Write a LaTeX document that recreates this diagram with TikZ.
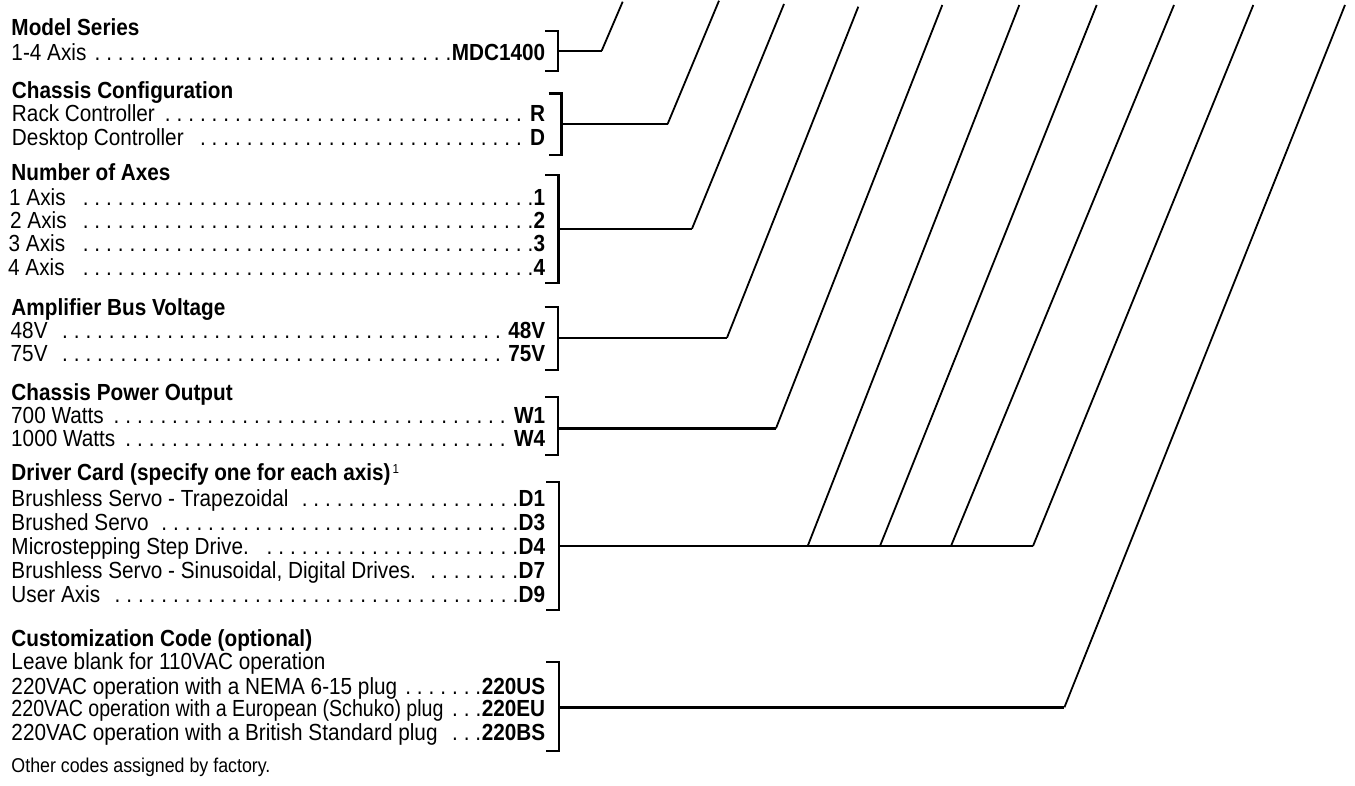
\documentclass[tikz,border=0pt]{standalone}
\usepackage{fontspec}
\usepackage{graphicx}
\setmainfont{Liberation Sans}[FakeStretch=0.89]
\newcommand\mybracket[5]{%
  \draw[brk] (#2-13,#3) -- (#2,#3) -- (#2,#4) -- (#2-13,#4);
  \coordinate (#1) at (#2,#5);}
% row: [extra gap]{total width}{label}{code}; dot grid aligned to the code
\newcommand\myrow[4][0pt]{%
  \setbox0\hbox{#3}\setbox2\hbox{\textbf{#4}}%
  \dimen0=\dimexpr #2pt-\wd0-\wd2-#1-2pt\relax
  \count255=\numexpr(\dimen0-383386)/766771\relax
  \dimen2=11.7pt \multiply\dimen2 by \count255
  \hbox to #2pt{\box0\hfil\hbox to \dimen2{\leaders\hbox to 11.7pt{\hfil.\kern0.5pt}\hfill}\kern#1\box2}}
\tikzset{
  txt/.style={anchor=base west, inner sep=0pt, font=\fontsize{23.3pt}{24pt}\selectfont},
  head/.style={txt, font=\fontsize{23.3pt}{24pt}\selectfont\bfseries},
  brk/.style={line width=2.4pt, line join=miter},
  hline/.style={line width=2.4pt},
  dline/.style={line width=1.8pt},
}
\begin{document}
\begin{tikzpicture}[x=1pt,y=-1pt]
\useasboundingbox (0,0) rectangle (1355,785);
% ---------- texts ----------
\node[head] (h1) at (11.3,35.2) {Model Series};
\node[txt] (r11) at (11.3,60) {\myrow{533.7}{1-4 Axis}{MDC1400}};

\node[head] (h2) at (11.8,98) {Chassis Configuration};
\node[txt] (r21) at (11.8,121.5) {\myrow[8pt]{533.2}{Rack Controller}{R}};
\node[txt] (r22) at (11.8,145) {\myrow[8pt]{533.2}{Desktop Controller}{D}};

\node[head] (h3) at (11.3,180) {Number of Axes};
\node[txt] (r31) at (9,205) {\myrow{536}{1 Axis}{1}};
\node[txt] (r32) at (10,228.3) {\myrow{535}{2 Axis}{2}};
\node[txt] (r33) at (8.5,251.6) {\myrow{536.5}{3 Axis}{3}};
\node[txt] (r34) at (8,275) {\myrow{537}{4 Axis}{4}};

\node[head] (h4) at (11.3,315) {Amplifier Bus Voltage};
\node[txt] (r41) at (10.5,338.4) {\myrow[7pt]{534.5}{48V}{48V}};
\node[txt] (r42) at (10.5,361.7) {\myrow[7pt]{534.5}{75V}{75V}};

\node[head] (h5) at (11.3,400.2) {Chassis Power Output};
\node[txt] (r51) at (11,423.4) {\myrow[8pt]{534}{700 Watts}{W1}};
\node[txt] (r52) at (11,446.2) {\myrow[8pt]{534}{1000 Watts}{W4}};

\node[head] (h6) at (11.3,480.5) {Driver Card (specify one for each axis)\hspace{2pt}{\mdseries\fontsize{13pt}{13pt}\selectfont\raisebox{7.5pt}{1}}};
\node[txt] (r61) at (11.3,506.5) {\myrow{533.7}{Brushless Servo - Trapezoidal}{D1}};
\node[txt] (r62) at (11.3,530.5) {\myrow{533.7}{Brushed Servo}{D3}};
\node[txt] (r63) at (11.3,554.5) {\myrow{533.7}{Microstepping Step Drive.}{D4}};
\node[txt] (r64) at (11.3,578.3) {\myrow{533.7}{Brushless Servo - Sinusoidal, Digital Drives.}{D7}};
\node[txt] (r65) at (11.3,602) {\myrow{533.7}{User Axis}{D9}};

\node[head] (h7) at (11.3,646.6) {Customization Code (optional)};
\node[txt] (r71) at (11.3,669) {Leave blank for 110VAC operation};
\node[txt] (r72) at (11.3,694) {\myrow{533.7}{220VAC operation with a NEMA 6-15 plug}{220US}};
\node[txt] (r73) at (11.3,716.5) {\myrow{533.7}{\scalebox{0.945}[1]{220VAC operation with a European (Schuko) plug}}{220EU}};
\node[txt] (r74) at (11.3,740) {\myrow{533.7}{220VAC operation with a British Standard plug}{220BS}};
\node[txt, font=\fontsize{20pt}{20pt}\selectfont] (note) at (11.3,772) {Other codes assigned by factory.};

% ---------- brackets ----------
\mybracket{b1}{558}{30.7}{70.7}{50.7}
\mybracket{b2}{561.5}{93.3}{155}{124}
\mybracket{b3}{558.3}{175}{282.7}{228.7}
\mybracket{b4}{557.7}{306.7}{370}{337.7}
\mybracket{b5}{558}{396.7}{455}{428.3}
\mybracket{b6}{559}{481.7}{610}{546}
\mybracket{b7}{559}{661.7}{751}{707.3}

% ---------- coordinates ----------
\coordinate (e1) at (601.7,50.7);
\coordinate (e2) at (667.6,124);
\coordinate (e3) at (692,228.7);
\coordinate (e4) at (727,337.7);
\coordinate (e5) at (776,428.3);
\coordinate (d1) at (807.7,546);
\coordinate (d2) at (880,546);
\coordinate (d3) at (951,546);
\coordinate (d4) at (1033,546);
\coordinate (e7) at (1064.4,707.3);

\coordinate (t1) at (622.7,1.7);
\coordinate (t2) at (719,0.7);
\coordinate (t3) at (784,4);
\coordinate (t4) at (858.3,6.7);
\coordinate (t5) at (942.3,5);
\coordinate (t6) at (1019.3,5);
\coordinate (t7) at (1096.7,5);
\coordinate (t8) at (1174,5);
\coordinate (t9) at (1253.3,5);
\coordinate (t10) at (1345,5);

% ---------- connectors ----------
\draw[hline] (b1) -- (e1);
\draw[hline] (b2) -- (e2);
\draw[hline] (b3) -- (e3);
\draw[hline] (b4) -- (e4);
\draw[hline] (b5) -- (e5);
\draw[hline] (b6) -- (d4);
\draw[hline] (b7) -- (e7);
\draw[dline] (e1) -- (t1);
\draw[dline] (e2) -- (t2);
\draw[dline] (e3) -- (t3);
\draw[dline] (e4) -- (t4);
\draw[dline] (e5) -- (t5);
\draw[dline] (d1) -- (t6);
\draw[dline] (d2) -- (t7);
\draw[dline] (d3) -- (t8);
\draw[dline] (d4) -- (t9);
\draw[dline] (e7) -- (t10);
\end{tikzpicture}
\end{document}
